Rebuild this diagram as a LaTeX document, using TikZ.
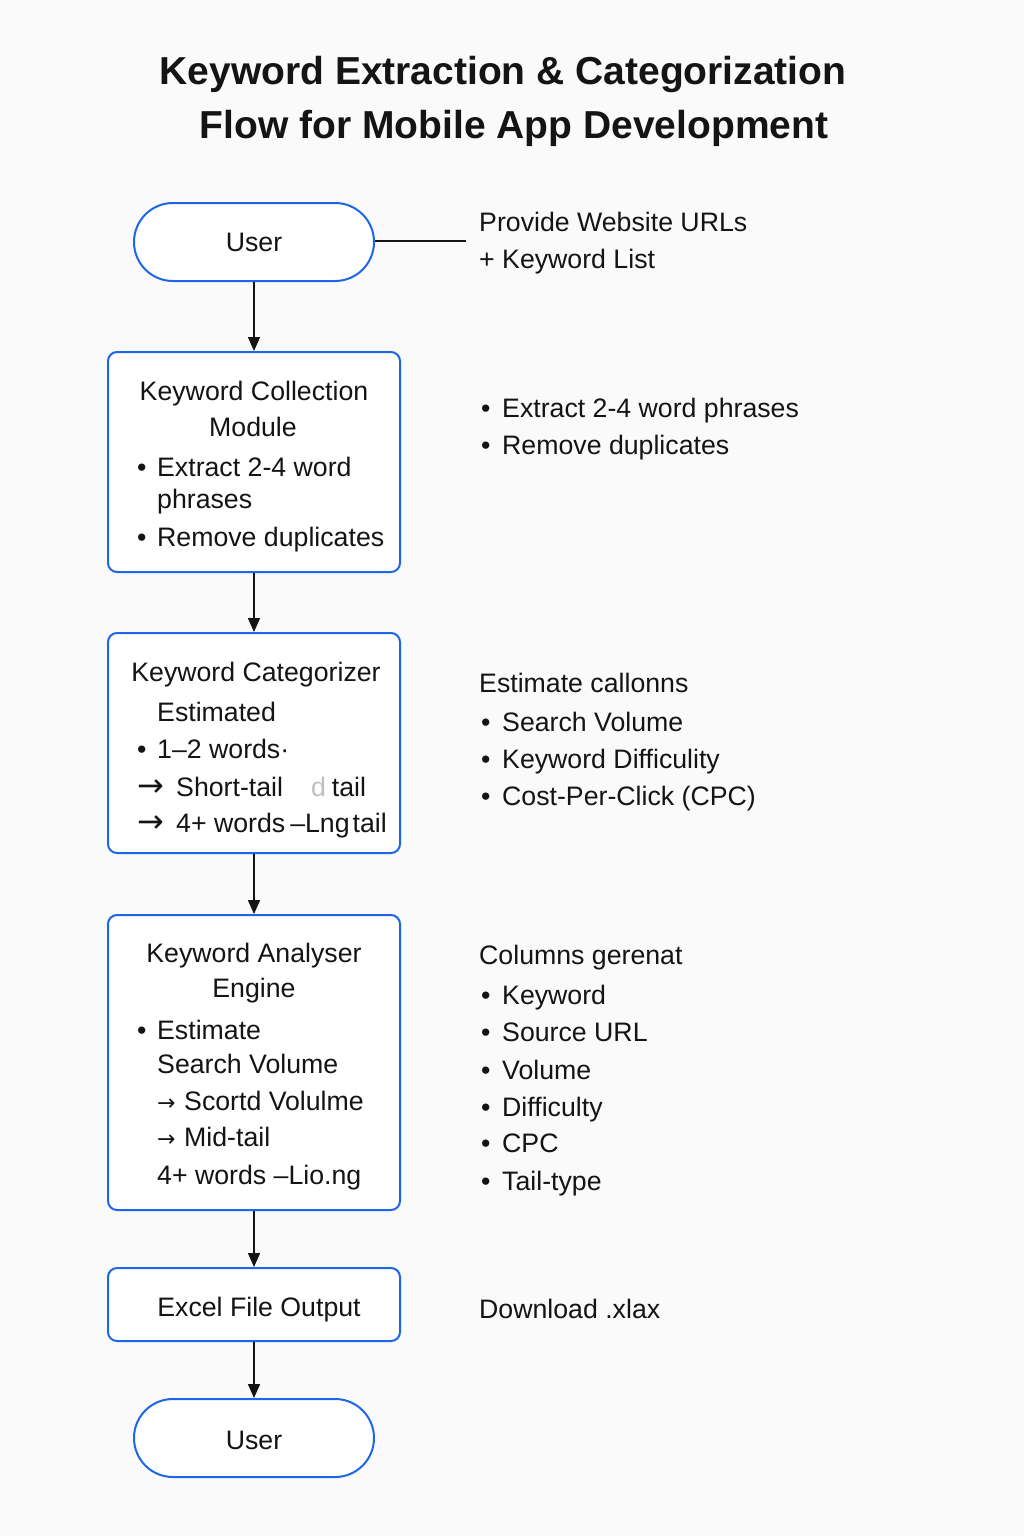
\documentclass[tikz,border=0pt]{standalone}
\usepackage{fontspec}
\setmainfont{Liberation Sans}
\newfontfamily\symf{DejaVu Sans}
\usetikzlibrary{arrows.meta}
\definecolor{bluebd}{RGB}{30,102,232}
\definecolor{bgc}{RGB}{250,250,250}
\definecolor{ink}{RGB}{20,20,20}
\tikzset{
  box/.style={draw=bluebd, line width=2pt, rounded corners=9pt, fill=white, minimum width=292pt, inner sep=0pt},
  term/.style={draw=bluebd, line width=2pt, rounded corners=38.9pt, fill=white, minimum width=240pt, minimum height=78pt, inner sep=0pt},
  arr/.style={draw=ink, line width=1.6pt, -{Triangle[length=14pt,width=12pt]}},
  lnk/.style={draw=ink, line width=1.6pt},
  txt/.style={inner sep=0pt, anchor=base west, text=ink, font=\fontsize{26.7}{31}\selectfont},
  ctxt/.style={inner sep=0pt, anchor=base, text=ink, font=\fontsize{26.7}{31}\selectfont},
  ttl/.style={inner sep=0pt, anchor=base, text=ink, font=\fontsize{39}{46}\selectfont\bfseries},
}
\newcommand{\bul}{\makebox[20pt][l]{•}}
\newcommand{\rbul}{\makebox[21pt][l]{•}}
\newcommand{\bigarr}{\makebox[39pt][l]{\symf\fontsize{32}{32}\selectfont →}}
\newcommand{\smarr}{\makebox[27pt][l]{\symf\fontsize{22}{22}\selectfont →}}
\begin{document}
\begin{tikzpicture}[x=1pt,y=-1pt]
\fill[bgc] (0,0) rectangle (1024,1536);
\useasboundingbox (0,0) rectangle (1024,1536);

% title
\node[ttl] (t1) at (503,85) {Keyword Extraction \& Categorization};
\node[ttl] (t2) at (514,139) {Flow for Mobile App Development};

% nodes
\node[term] (u1) at (254,242) {};
\node[ctxt] (u1t) at (254,251) {User};

\node[box, minimum height=220pt] (kc) at (254,462) {};
\node[box, minimum height=220pt] (cat) at (254,743) {};
\node[box, minimum height=295pt] (an) at (254,1062.5) {};
\node[box, minimum height=73pt] (xl) at (254,1304.5) {};
\node[term] (u2) at (254,1438) {};
\node[ctxt] (u2t) at (254,1449) {User};

% connectors
\coordinate (pv) at (466,241);
\draw[lnk] (u1.east |- pv) -- (pv);
\draw[arr] (u1.south) -- (kc.north);
\draw[arr] (kc.south) -- (cat.north);
\draw[arr] (cat.south) -- (an.north);
\draw[arr] (an.south) -- (xl.north);
\draw[arr] (xl.south) -- (u2.north);

% right texts
\node[txt] (r1a) at (479,231) {Provide Website URLs};
\node[txt] (r1b) at (479,268) {+ Keyword List};

\node[txt] (r2a) at (481,417) {\rbul Extract 2-4 word phrases};
\node[txt] (r2b) at (481,454) {\rbul Remove duplicates};

\node[txt] (r3h) at (479,692) {Estimate callonns};
\node[txt] (r3a) at (481,731) {\rbul Search Volume};
\node[txt] (r3b) at (481,768) {\rbul Keyword Difficulity};
\node[txt] (r3c) at (481,805) {\rbul Cost-Per-Click (CPC)};

\node[txt] (r4h) at (479,964) {Columns gerenat};
\node[txt] (r4a) at (481,1004) {\rbul Keyword};
\node[txt] (r4b) at (481,1041) {\rbul Source URL};
\node[txt] (r4c) at (481,1079) {\rbul Volume};
\node[txt] (r4d) at (481,1116) {\rbul Difficulty};
\node[txt] (r4e) at (481,1152) {\rbul CPC};
\node[txt] (r4f) at (481,1190) {\rbul Tail-type};

\node[txt] (r5) at (479,1318) {Download .xlax};

% box 2 text
\node[ctxt] (kc1) at (254,400) {Keyword Collection};
\node[ctxt] (kc2) at (253,436) {Module};
\node[txt] (kc3) at (137,476) {\bul Extract 2-4 word};
\node[txt] (kc4) at (157,508) {phrases};
\node[txt] (kc5) at (137,546) {\bul Remove duplicates};

% box 3 text
\node[ctxt] (ca1) at (256,681) {Keyword Categorizer};
\node[txt] (ca2) at (157,721) {Estimated};
\node[txt] (ca3) at (137,758) {\bul 1–2 words·};
\node[txt] (ca4) at (137,796) {\bigarr Short-tail\hspace{28pt}{\color{black!25}d}\hspace{6pt}tail};
\node[txt] (ca5) at (137,832) {\bigarr 4+ words\hspace{5pt}–Lng\hspace{3pt}tail};

% box 4 text
\node[ctxt] (an1) at (254,962) {Keyword Analyser};
\node[ctxt] (an2) at (254,997) {Engine};
\node[txt] (an3) at (137,1039) {\bul Estimate};
\node[txt] (an4) at (157,1073) {Search Volume};
\node[txt] (an5) at (157,1110) {\smarr Scortd Volulme};
\node[txt] (an6) at (157,1146) {\smarr Mid-tail};
\node[txt] (an7) at (157,1184) {4+ words –Lio.ng};

% box 5 text
\node[ctxt] (xl1) at (259,1316) {Excel File Output};
\end{tikzpicture}
\end{document}
